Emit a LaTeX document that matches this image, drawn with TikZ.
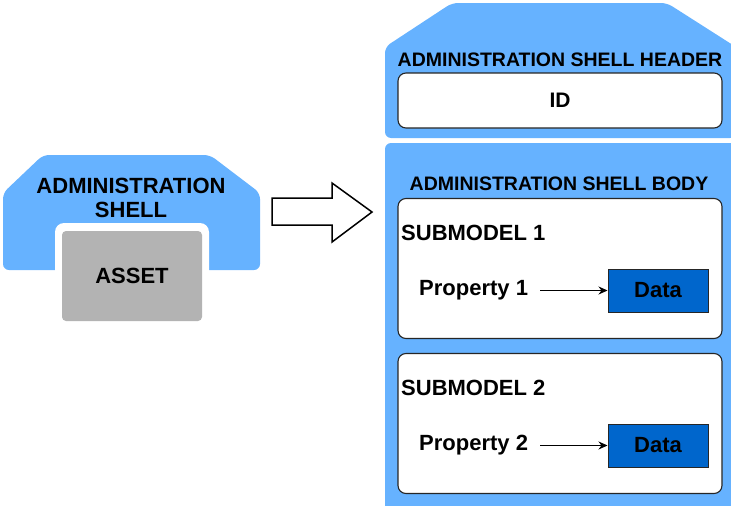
\documentclass[tikz,border=0pt]{standalone}
\usepackage{fontspec}
\setmainfont{Liberation Sans}
\usetikzlibrary{arrows.meta}

\definecolor{shellblue}{HTML}{66B2FF}
\definecolor{assetgray}{HTML}{B3B3B3}
\definecolor{datablue}{HTML}{0066CC}

\begin{document}
\begin{tikzpicture}[x=1pt,y=-1pt,>={Stealth[length=9pt,width=8pt]},
    shell/.style={fill=shellblue, rounded corners=6},
    lbl/.style={font=\bfseries\fontsize{19.5}{22}\selectfont, inner sep=0},
    big/.style={font=\bfseries\fontsize{22}{25}\selectfont, inner sep=0},
    whitebox/.style={draw=black!85, fill=white, line width=1.1pt, rounded corners=8,
      minimum width=324, minimum height=140},
    databox/.style={draw=black!85, fill=datablue, line width=1pt,
      minimum width=100, minimum height=43, big}]
  \useasboundingbox (0,0) rectangle (731,506);

  % small shell with the asset in it
  \fill[shell] (3,193) -- (43,155) -- (210,155) -- (260,193) -- (260,270) -- (3,270) -- cycle;
  \fill[white, rounded corners=9] (55,223) rectangle (209,280);
  \node[big, align=center] (shelltxt) at (131,198) {ADMINISTRATION\\[-1pt]SHELL};
  \node[fill=assetgray, rounded corners=4, minimum width=140, minimum height=90, big] (asset) at (132,276) {ASSET};

  % block arrow
  \draw[line width=1.5pt, fill=white, line join=miter] (272,198) -- (332,198) -- (332,183) -- (372,212)
    -- (332,242) -- (332,225) -- (272,225) -- cycle;

  % header
  \fill[shell] (385,47) -- (452,3) -- (667,3) -- (736,47) -- (736,138) -- (385,138) -- cycle;
  \node[lbl] (headtxt) at (560,60) {ADMINISTRATION SHELL HEADER};
  \node[whitebox, minimum height=55, big, font=\bfseries\fontsize{21}{24}\selectfont] (id) at (560,100.5) {ID};

  % body
  \fill[shell] (385,143) rectangle (736,530);
  \node[lbl] (bodytxt) at (559,184) {ADMINISTRATION SHELL BODY};

  \foreach \i/\y in {1/268.5, 2/423.5} {
    \node[whitebox] (sub\i) at (560,\y) {};
    \node[big, anchor=west] (subtxt\i) at (401,\y-36) {SUBMODEL \i};
    \node[big, anchor=west] (prop\i) at (419,\y+22) {Property \i};
    \node[databox] (data\i) at (658,\y+22) {Data};
    \draw[->, line width=1pt, shorten <=12pt] (prop\i.east) -- (data\i.west);
  }
\end{tikzpicture}
\end{document}
